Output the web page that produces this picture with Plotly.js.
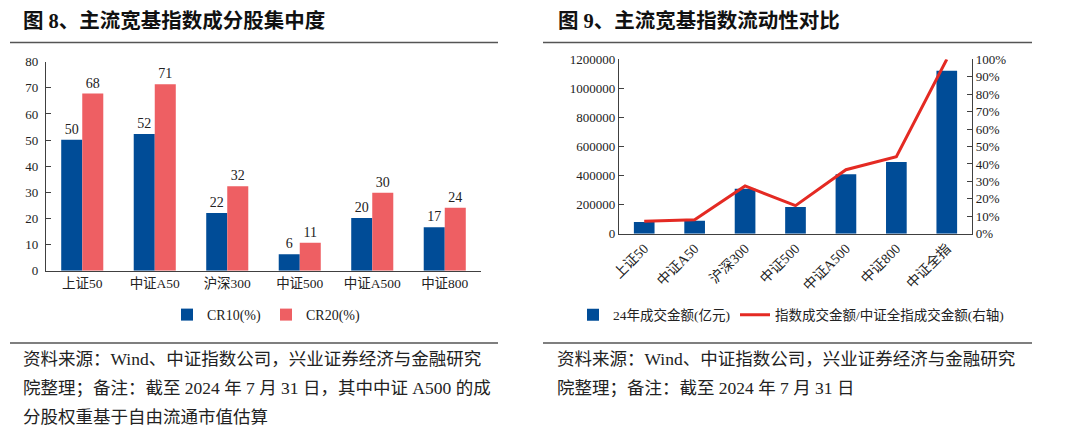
<!DOCTYPE html>
<html>
<head>
<meta charset="utf-8">
<script src="https://cdn.plot.ly/plotly-3.0.1.min.js"></script>
<style>html,body{margin:0;padding:0;background:#fff;}#chart{width:1080px;height:441px;}</style>
</head>
<body>
<div id="chart"></div>
<script>
// Left chart data
const catsLeft = ['上证50', '中证A50', '沪深300', '中证500', '中证A500', '中证800'];
const cr10 = [50.1, 52.3, 22.1, 6.3, 20.2, 16.6];
const cr20 = [67.8, 71.4, 32.3, 10.7, 29.8, 24.1];
const leftYTicks = [0, 10, 20, 30, 40, 50, 60, 70, 80];

// Right chart data
const catsRight = ['上证50', '中证A50', '沪深300', '中证500', '中证A500', '中证800', '中证全指'];
const turnover = [80500, 89500, 309600, 183700, 408700, 493400, 1121600];
const turnoverRatio = [0.071, 0.080, 0.274, 0.161, 0.367, 0.442, 1.0];
const rightYTicks = [0, 200000, 400000, 600000, 800000, 1000000, 1200000];

const W = 1080, H = 441;
const px = v => v / W;
const py = v => 1 - v / H;

const FONT = 'Liberation Serif, "Noto Sans CJK SC", serif';
const CJK = '"Liberation Serif", "Noto Sans CJK SC", sans-serif';
const BLUE = '#004C97';
const PINK = '#EE5F63';
const RED = '#E42A23';
const AX = '#404040';

const traces = [
  {type: 'bar', name: 'CR10(%)', x: catsLeft, y: cr10, xaxis: 'x', yaxis: 'y',
   marker: {color: BLUE}, text: cr10, texttemplate: '%{y:.0f}', textposition: 'outside',
   textfont: {family: FONT, size: 14, color: '#222'}, cliponaxis: false, legend: 'legend', hoverinfo: 'skip'},
  {type: 'bar', name: 'CR20(%)', x: catsLeft, y: cr20, xaxis: 'x', yaxis: 'y',
   marker: {color: PINK}, text: cr20, texttemplate: '%{y:.0f}', textposition: 'outside',
   textfont: {family: FONT, size: 14, color: '#222'}, cliponaxis: false, legend: 'legend', hoverinfo: 'skip'},
  {type: 'bar', name: '24年成交金额(亿元)', x: catsRight, y: turnover, xaxis: 'x2', yaxis: 'y2',
   marker: {color: BLUE}, width: 0.41, legend: 'legend2', hoverinfo: 'skip'},
  {type: 'scatter', mode: 'lines', name: '指数成交金额/中证全指成交金额(右轴)', x: catsRight, y: turnoverRatio,
   xaxis: 'x2', yaxis: 'y3', line: {color: RED, width: 3}, cliponaxis: false, legend: 'legend2', hoverinfo: 'skip'}
];

const axisCommon = {showgrid: false, zeroline: false, showline: true, linecolor: AX, linewidth: 1.2,
  tickfont: {family: FONT, size: 13, color: '#222'}, fixedrange: true};

const layout = {
  width: W, height: H,
  margin: {l: 0, r: 0, t: 0, b: 0},
  paper_bgcolor: '#fff', plot_bgcolor: 'rgba(0,0,0,0)',
  barmode: 'group', bargap: 0.42, bargroupgap: 0,
  font: {family: FONT, color: '#222'},
  xaxis: Object.assign({}, axisCommon, {domain: [px(46), px(481)], anchor: 'y', ticks: '',
    tickfont: {family: CJK, size: 13.5, color: '#222'}}),
  yaxis: Object.assign({}, axisCommon, {domain: [py(270.7), py(61.7)], anchor: 'x', range: [0, 80],
    tickvals: leftYTicks, ticks: 'inside', ticklen: 5, tickcolor: AX, ticklabelstandoff: 4}),
  xaxis2: Object.assign({}, axisCommon, {domain: [px(619), px(972)], anchor: 'y2', ticks: '',
    tickangle: -45, tickfont: {family: CJK, size: 14, color: '#222'}}),
  yaxis2: Object.assign({}, axisCommon, {domain: [py(233.7), py(59.3)], anchor: 'x2', range: [0, 1200000],
    tickvals: rightYTicks, ticks: 'inside', ticklen: 5, tickcolor: AX, tickformat: 'd'}),
  yaxis3: Object.assign({}, axisCommon, {overlaying: 'y2', side: 'right', anchor: 'x2', range: [0, 1],
    tickvals: [0,0.1,0.2,0.3,0.4,0.5,0.6,0.7,0.8,0.9,1], tickformat: '.0%', ticks: 'inside', ticklen: 5, tickcolor: AX}),
  legend: {orientation: 'h', x: px(266), y: py(315), xanchor: 'center', yanchor: 'middle',
    font: {family: FONT, size: 14, color: '#222'}, itemwidth: 30, tracegroupgap: 0, bgcolor: 'rgba(0,0,0,0)'},
  legend2: {orientation: 'h', x: px(791), y: py(315), xanchor: 'center', yanchor: 'middle',
    font: {family: CJK, size: 13.5, color: '#222'}, itemwidth: 30, bgcolor: 'rgba(0,0,0,0)'},
  showlegend: true,
  shapes: [
    {type: 'line', xref: 'paper', yref: 'paper', x0: px(10), x1: px(498), y0: py(42.5), y1: py(42.5), line: {color: '#555', width: 1.5}},
    {type: 'line', xref: 'paper', yref: 'paper', x0: px(543), x1: px(1032), y0: py(42.5), y1: py(42.5), line: {color: '#555', width: 1.5}},
    {type: 'line', xref: 'paper', yref: 'paper', x0: px(10), x1: px(498), y0: py(343), y1: py(343), line: {color: '#555', width: 1.5}},
    {type: 'line', xref: 'paper', yref: 'paper', x0: px(543), x1: px(1032), y0: py(343), y1: py(343), line: {color: '#555', width: 1.5}}
  ],
  annotations: [
    {text: '<b>图 8、主流宽基指数成分股集中度</b>', xref: 'paper', yref: 'paper', x: px(21), y: py(20), xanchor: 'left', yanchor: 'middle', showarrow: false,
     font: {family: '"Liberation Serif", "Noto Sans CJK SC", sans-serif', size: 20.5, color: '#111'}},
    {text: '<b>图 9、主流宽基指数流动性对比</b>', xref: 'paper', yref: 'paper', x: px(556), y: py(20), xanchor: 'left', yanchor: 'middle', showarrow: false,
     font: {family: '"Liberation Serif", "Noto Sans CJK SC", sans-serif', size: 20.5, color: '#111'}},
    {text: '资料来源：Wind、中证指数公司，兴业证券经济与金融研究', xref: 'paper', yref: 'paper', x: px(21), y: py(359), xanchor: 'left', yanchor: 'middle', showarrow: false,
     font: {family: CJK, size: 17.5, color: '#222'}},
    {text: '院整理；备注：截至 2024 年 7 月 31 日，其中中证 A500 的成', xref: 'paper', yref: 'paper', x: px(21), y: py(388), xanchor: 'left', yanchor: 'middle', showarrow: false,
     font: {family: CJK, size: 17.5, color: '#222'}},
    {text: '分股权重基于自由流通市值估算', xref: 'paper', yref: 'paper', x: px(21), y: py(417), xanchor: 'left', yanchor: 'middle', showarrow: false,
     font: {family: CJK, size: 17.5, color: '#222'}},
    {text: '资料来源：Wind、中证指数公司，兴业证券经济与金融研究', xref: 'paper', yref: 'paper', x: px(555), y: py(359), xanchor: 'left', yanchor: 'middle', showarrow: false,
     font: {family: CJK, size: 17.5, color: '#222'}},
    {text: '院整理；备注：截至 2024 年 7 月 31 日', xref: 'paper', yref: 'paper', x: px(555), y: py(388), xanchor: 'left', yanchor: 'middle', showarrow: false,
     font: {family: CJK, size: 17.5, color: '#222'}}
  ]
};

Plotly.newPlot('chart', traces, layout, {displayModeBar: false, staticPlot: true});
</script>
</body>
</html>
